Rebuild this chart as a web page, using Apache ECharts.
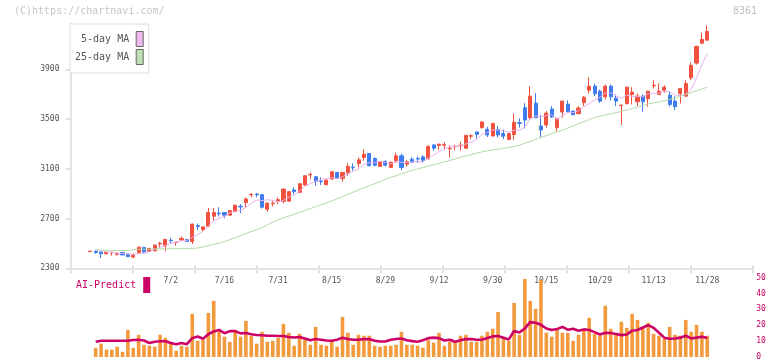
<!DOCTYPE html>
<html><head><meta charset="utf-8">
<script src="https://cdn.jsdelivr.net/npm/echarts@6/dist/echarts.min.js"></script>
<style>html,body{margin:0;padding:0;background:#fff}#c{width:772px;height:361px}</style>
</head><body><div id="c"></div>
<script>
const tickLabels = ['7/2','7/16','7/31','8/15','8/29','9/12','9/30','10/15','10/29','11/13','11/28'];
const tickLabelIndex = [15,25,35,45,55,65,75,85,95,105,115];
const yTicks = [2300,2700,3100,3500,3900];

const opens = [2434,2436,2431,2416,2424,2413,2428,2415,2390,2428,
2468,2437,2440,2496,2481,2526,2506,2529,2532,2516,
2643,2612,2639,2719,2744,2748,2727,2756,2799,2828,
2890,2897,2892,2775,2820,2839,2839,2840,2930,2911,
2969,3050,3036,3001,2972,3017,3071,3023,3068,3113,
3143,3191,3223,3183,3119,3159,3111,3164,3204,3137,
3177,3182,3196,3183,3292,3287,3290,3261,3277,3285,
3265,3362,3396,3431,3417,3364,3417,3383,3335,3375,
3470,3591,3511,3628,3444,3452,3580,3431,3556,3620,
3564,3543,3631,3732,3764,3724,3679,3764,3668,3607,
3623,3697,3639,3684,3663,3767,3697,3732,3692,3644,
3703,3684,3831,3950,4110,4134];
const closes = [2438,2428,2417,2428,2428,2416,2407,2393,2405,2470,
2432,2460,2487,2502,2532,2522,2510,2540,2516,2655,
2636,2633,2748,2748,2738,2727,2764,2807,2793,2857,
2894,2891,2791,2823,2825,2852,2937,2916,2917,2980,
3044,3054,2999,2997,3009,3076,3023,3071,3119,3108,
3172,3217,3124,3129,3156,3129,3153,3204,3111,3156,
3153,3178,3169,3279,3265,3297,3294,3265,3281,3289,
3369,3366,3377,3476,3372,3465,3372,3362,3383,3474,
3465,3492,3684,3511,3412,3548,3516,3503,3644,3559,
3535,3588,3676,3764,3703,3644,3764,3679,3644,3611,
3756,3716,3684,3639,3724,3771,3724,3756,3617,3599,
3745,3785,3932,4084,4140,4204];
const highs = [2440,2444,2431,2432,2434,2428,2430,2417,2420,2474,
2470,2463,2490,2513,2535,2545,2512,2556,2535,2660,
2660,2636,2785,2785,2791,2750,2767,2810,2817,2871,
2905,2905,2895,2831,2839,2871,2940,2919,2951,2985,
3047,3071,3038,3031,3012,3079,3074,3074,3145,3145,
3191,3257,3226,3191,3159,3169,3156,3231,3223,3172,
3193,3199,3207,3292,3297,3305,3313,3289,3292,3319,
3372,3377,3398,3484,3436,3468,3444,3415,3386,3543,
3505,3628,3764,3708,3532,3564,3604,3511,3647,3649,
3567,3604,3684,3836,3785,3737,3777,3777,3697,3617,
3759,3756,3705,3697,3727,3812,3788,3772,3724,3684,
3748,3812,3956,4090,4196,4252];
const lows = [2432,2417,2383,2412,2402,2402,2405,2391,2381,2425,
2422,2434,2438,2468,2436,2497,2482,2519,2513,2495,
2609,2599,2631,2679,2716,2703,2722,2754,2743,2785,
2871,2871,2780,2756,2796,2817,2823,2836,2897,2908,
2966,3017,2964,2969,2970,3015,3020,2996,3044,3084,
3111,3164,3121,3119,3117,3119,3108,3151,3089,3116,
3145,3148,3151,3172,3244,3249,3255,3191,3249,3244,
3263,3337,3343,3423,3356,3361,3351,3340,3330,3332,
3431,3425,3497,3508,3356,3431,3511,3399,3511,3551,
3532,3537,3604,3703,3684,3631,3657,3649,3604,3452,
3620,3617,3604,3559,3599,3745,3695,3711,3599,3572,
3625,3682,3812,3938,4102,4132];
const ma5 = [null,2447,2440,2433,2428,2423,2419,2414,2410,2418,
2421,2432,2451,2470,2483,2501,2511,2521,2524,2549,
2571,2596,2638,2684,2701,2719,2745,2757,2766,2790,
2823,2848,2845,2851,2845,2836,2846,2871,2889,2920,
2959,2982,2999,3015,3021,3027,3021,3035,3060,3079,
3099,3137,3148,3150,3160,3151,3138,3154,3151,3151,
3155,3160,3153,3187,3209,3238,3261,3280,3280,3285,
3300,3314,3336,3375,3392,3411,3412,3409,3391,3411,
3411,3435,3500,3525,3513,3529,3534,3498,3525,3554,
3551,3566,3600,3624,3653,3675,3710,3711,3687,3668,
3691,3681,3682,3681,3704,3707,3708,3723,3718,3693,
3688,3700,3736,3829,3937,4029];
const ma25 = [null,2447,2446,2445,2444,2443,2443,2442,2449,2452,
2453,2454,2455,2456,2457,2457,2458,2458,2459,2460,
2463,2472,2482,2492,2503,2514,2530,2546,2562,2580,
2595,2610,2628,2650,2671,2690,2705,2720,2735,2748,
2765,2780,2795,2811,2826,2842,2860,2877,2894,2912,
2929,2947,2964,2981,2998,3015,3031,3044,3059,3073,
3088,3099,3110,3121,3132,3143,3155,3167,3179,3194,
3203,3214,3226,3236,3244,3252,3257,3264,3271,3278,
3290,3305,3320,3336,3352,3367,3382,3397,3411,3427,
3444,3462,3479,3496,3512,3524,3533,3542,3551,3561,
3572,3583,3596,3609,3621,3630,3638,3647,3658,3670,
3682,3697,3712,3728,3742,3756];
const volume = [null,5.8,8.4,4.6,4.6,6.5,3.3,17.1,5.8,14.0,
7.7,7.1,6.5,14.0,12.1,8.4,4.0,7.1,6.5,27.2,
10.2,10.9,27.8,35.4,16.5,12.8,9.6,17.1,12.8,22.8,
13.4,8.4,15.9,9.6,10.2,12.1,20.9,15.3,7.1,14.6,
11.5,7.7,19.0,7.7,7.1,10.9,6.5,25.3,15.3,7.7,
14.0,13.4,13.4,7.1,6.5,7.1,7.1,7.7,15.9,7.7,
7.7,7.1,5.9,10.9,9.0,15.3,7.1,9.6,9.6,13.4,
14.0,9.6,9.6,13.4,15.9,17.8,28.4,12.8,10.2,34.1,
14.0,49.2,35.4,30.4,48.6,15.3,12.8,17.8,15.3,15.3,
10.2,14.0,17.2,24.7,14.6,13.4,32.3,17.8,14.0,22.2,
18.4,27.2,23.4,18.4,21.6,14.6,13.4,11.5,19.0,14.0,
13.4,23.4,15.9,20.3,15.9,13.4];
const aiPredict = [null,9.6,10.2,10.2,10.2,10.2,10.2,10.2,10.7,10.9,
10.4,8.8,9.6,9.9,9.9,8.8,8.1,8.8,8.1,11.9,
12.9,11.5,14.4,16.1,17.1,15.0,16.3,16.3,14.9,15.1,
14.3,13.9,13.7,13.4,13.4,13.2,13.2,12.6,12.3,12.6,
11.6,10.6,11.3,10.9,10.4,10.2,10.9,12.2,11.3,10.9,
10.9,11.3,11.3,10.2,9.8,9.8,10.9,11.3,11.7,10.6,
10.0,9.6,10.6,11.9,12.2,11.9,10.4,10.9,9.6,10.6,
11.3,11.3,10.9,10.9,12.0,13.0,13.2,12.2,11.1,16.4,
15.5,18.0,22.0,21.6,20.3,18.0,17.0,17.6,19.0,17.2,
17.8,16.6,17.4,17.0,15.7,14.2,15.3,15.1,14.5,13.8,
14.2,16.6,17.0,18.6,20.1,18.4,15.3,12.2,11.5,11.7,
12.2,13.4,11.7,12.2,12.8,12.0];

const FONT = 'DejaVu Sans Mono';
const AX = '#e2e2e2';
const candleData = opens.map((o, i) => [i, o, closes[i], lows[i], highs[i]]);
const pair = arr => arr.map((v, i) => [i, v]);

const chart = echarts.init(document.getElementById('c'));
chart.setOption({
  animation: false,
  title: [
    {text: '(C)https://chartnavi.com/', left: 14, top: 6, padding: 0,
     textStyle: {color: '#c6c6c6', fontSize: 10, fontWeight: 'normal', fontFamily: FONT}},
    {text: '8361', right: 15, top: 6, padding: 0,
     textStyle: {color: '#c0c0c0', fontSize: 10, fontWeight: 'normal', fontFamily: FONT}}
  ],
  legend: [
    {orient: 'vertical', left: 70, top: 24, align: 'right', padding: [7, 5, 8, 5], itemGap: 2,
     itemWidth: 7, itemHeight: 15, backgroundColor: '#fff', borderColor: '#dddddd', borderWidth: 1,
     selectedMode: false, textStyle: {color: '#555', fontSize: 10, fontFamily: FONT, padding: [0, 2, 0, 0]},
     data: [
       {name: '5-day MA', icon: 'rect', itemStyle: {color: '#eebaf0', borderColor: '#666', borderWidth: 1}},
       {name: '25-day MA', icon: 'rect', itemStyle: {color: '#bfe0b4', borderColor: '#666', borderWidth: 1}}
     ]},
    {left: 76, top: 277, align: 'right', padding: 0, itemWidth: 7, itemHeight: 16,
     selectedMode: false, textStyle: {color: '#cc0066', fontSize: 10, fontFamily: FONT, padding: [0, 2, 0, 0]},
     data: [{name: 'AI-Predict', icon: 'rect', itemStyle: {color: '#cc0066', borderWidth: 0}}]}
  ],
  grid: [
    {left: 70.5, right: 19.7, top: 24, bottom: 92.7},
    {left: 70.5, right: 19.7, top: 277.7, bottom: 3.7}
  ],
  xAxis: [
    {type: 'value', gridIndex: 0, position: 'bottom', min: -3.7, max: 123.4,
     axisLine: {show: false, onZero: false}, axisTick: {show: false}, splitLine: {show: false},
     axisLabel: {customValues: tickLabelIndex, formatter: v => {const k = tickLabelIndex.indexOf(v); return k >= 0 ? tickLabels[k] : '';},
       color: '#555', fontSize: 8, fontFamily: FONT, margin: 9}},
    {type: 'value', gridIndex: 0, position: 'bottom', min: 0, max: 11, interval: 1,
     axisLine: {show: true, onZero: false, lineStyle: {color: AX, width: 2}},
     axisTick: {show: true, length: 5, lineStyle: {color: AX, width: 2}},
     axisLabel: {show: false}, splitLine: {show: false}},
    {type: 'value', gridIndex: 0, position: 'bottom', min: 0, max: 11, interval: 1,
     axisLine: {show: false, onZero: false},
     axisTick: {show: true, inside: true, length: 3, lineStyle: {color: AX, width: 2}},
     axisLabel: {show: false}, splitLine: {show: false}},
    {type: 'value', gridIndex: 1, position: 'bottom', min: -3.7, max: 123.4, show: false,
     axisLine: {onZero: false}, splitLine: {show: false}}
  ],
  yAxis: [
    {type: 'value', gridIndex: 0, position: 'left', min: 2300, max: 4264,
     axisLine: {show: true, onZero: false, lineStyle: {color: AX, width: 2}},
     axisTick: {show: true, length: 5, customValues: yTicks, lineStyle: {color: AX, width: 2}},
     axisLabel: {customValues: yTicks, formatter: v => String(v), color: '#555', fontSize: 8, fontFamily: FONT, margin: 11},
     splitLine: {show: false}},
    {type: 'value', gridIndex: 1, position: 'right', min: 0, max: 50, interval: 10,
     axisLine: {show: false, onZero: false}, axisTick: {show: false}, splitLine: {show: false},
     axisLabel: {formatter: v => String(v), color: '#cc0066', fontSize: 8, fontFamily: FONT, margin: 4}}
  ],
  series: [
    {type: 'candlestick', name: 'price', xAxisIndex: 0, yAxisIndex: 0, data: candleData,
     encode: {x: 0, y: [1, 2, 3, 4]}, barWidth: 3.6,
     itemStyle: {color: '#f1513f', color0: '#3e7cf0', borderColor: '#f1513f', borderColor0: '#3e7cf0', borderWidth: 1}},
    {type: 'line', name: '5-day MA', xAxisIndex: 0, yAxisIndex: 0, data: pair(ma5),
     showSymbol: false, symbol: 'none', lineStyle: {color: '#e8b0ea', width: 1}, itemStyle: {color: '#e8b0ea'}},
    {type: 'line', name: '25-day MA', xAxisIndex: 0, yAxisIndex: 0, data: pair(ma25),
     showSymbol: false, symbol: 'none', lineStyle: {color: '#b2d9a6', width: 1}, itemStyle: {color: '#b2d9a6'}},
    {type: 'bar', name: 'volume', xAxisIndex: 3, yAxisIndex: 1, data: pair(volume),
     barWidth: 3.6, itemStyle: {color: '#f39a3e'}},
    {type: 'line', name: 'AI-Predict', xAxisIndex: 3, yAxisIndex: 1, data: pair(aiPredict),
     showSymbol: false, symbol: 'none', lineStyle: {color: '#cc0066', width: 2.6}, itemStyle: {color: '#cc0066'}}
  ]
});
</script></body></html>
